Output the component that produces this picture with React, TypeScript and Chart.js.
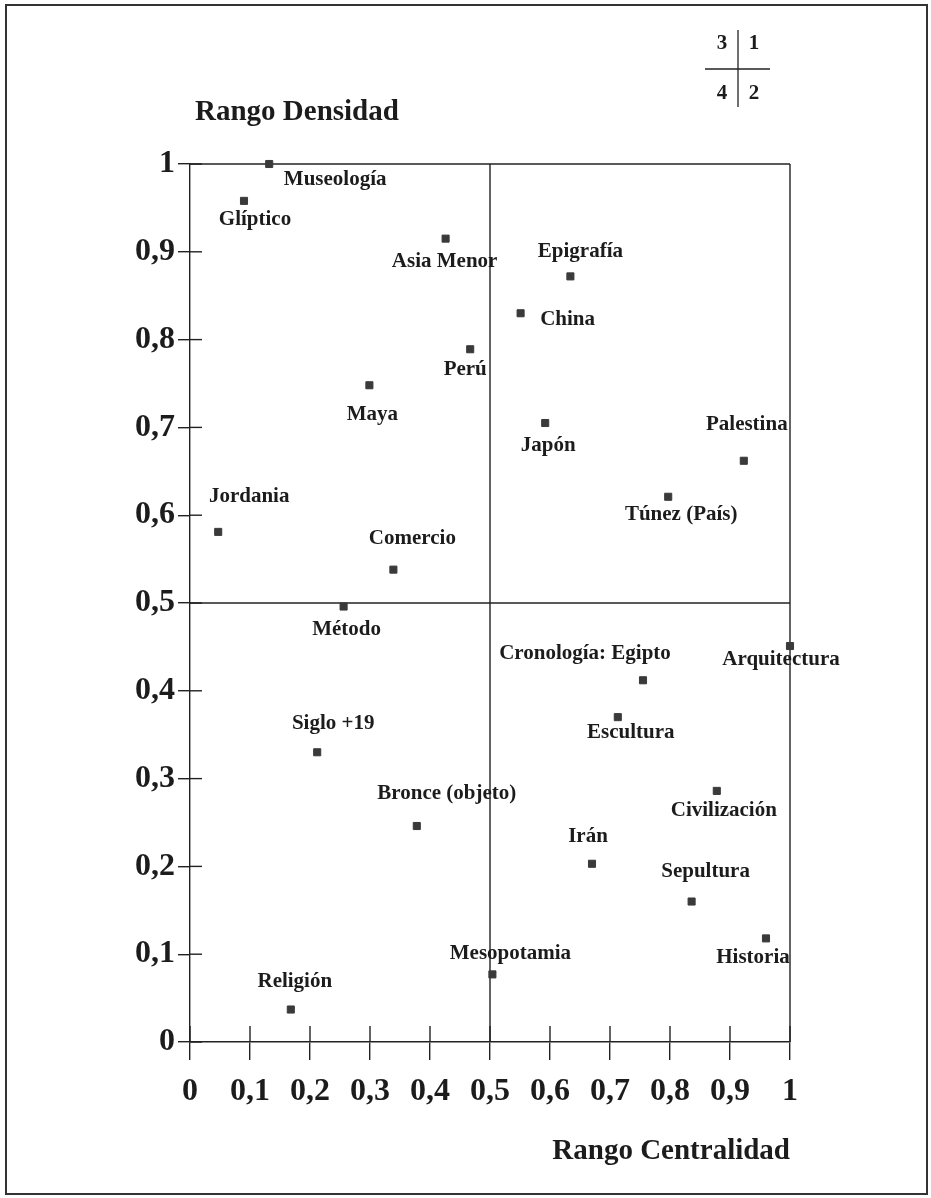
import React, { useEffect, useRef } from 'react';
import { Chart, registerables } from 'chart.js';

Chart.register(...registerables);

// ---- Data ----
const TOPICS = [
  'Museología', 'Glíptico', 'Asia Menor', 'Epigrafía', 'China', 'Perú', 'Maya', 'Japón',
  'Palestina', 'Túnez (País)', 'Jordania', 'Comercio', 'Método', 'Arquitectura',
  'Cronología: Egipto', 'Escultura', 'Siglo +19', 'Civilización', 'Bronce (objeto)', 'Irán',
  'Sepultura', 'Historia', 'Mesopotamia', 'Religión',
];
const CENTRALITY = [
  0.132, 0.09, 0.426, 0.634, 0.551, 0.467, 0.299, 0.592,
  0.923, 0.797, 0.047, 0.339, 0.256, 1.0,
  0.755, 0.713, 0.212, 0.878, 0.378, 0.67,
  0.836, 0.96, 0.504, 0.168,
];
const DENSITY = [
  1.0, 0.958, 0.915, 0.872, 0.83, 0.789, 0.748, 0.705,
  0.662, 0.621, 0.581, 0.538, 0.496, 0.451,
  0.412, 0.37, 0.33, 0.286, 0.246, 0.203,
  0.16, 0.118, 0.077, 0.037,
];
const X_TITLE = 'Rango Centralidad';
const Y_TITLE = 'Rango Densidad';
const QUADRANT_LABELS = ['3', '1', '4', '2'];

// ---- Label placement (pixel offsets from each marker, layout only) ----
const LABEL_OFFSETS: [number, number][] = [
  [66, 16], [11, 19], [-1, 23], [10, -25], [47, 6], [-5, 20], [3, 29], [3, 23],
  [3, -36], [13, 18], [31, -35], [19, -31], [3, 23], [-9, 14],
  [-58, -27], [13, 15], [16, -29], [7, 20], [30, -32], [-4, -27],
  [14, -30], [-13, 19], [18, -21], [4, -28],
];

const FAMILY = "'Liberation Serif', 'Times New Roman', serif";
const INK = '#1c1c1c';

const fmt = (v: number) => {
  if (Math.abs(v) < 1e-9) return '0';
  if (Math.abs(v - 1) < 1e-9) return '1';
  return v.toFixed(1).replace('.', ',');
};

const line = (ctx: CanvasRenderingContext2D, x1: number, y1: number, x2: number, y2: number) => {
  ctx.beginPath();
  ctx.moveTo(x1, y1);
  ctx.lineTo(x2, y2);
  ctx.stroke();
};

const decorPlugin = {
  id: 'decor',
  beforeDatasetsDraw(chart: any) {
    const ctx = chart.ctx as CanvasRenderingContext2D;
    const { left, right, top, bottom } = chart.chartArea;
    const xs = chart.scales.x;
    const ys = chart.scales.y;
    ctx.save();
    ctx.strokeStyle = '#222';
    ctx.lineWidth = 1.4;
    // box top/right
    line(ctx, left, top, right, top);
    line(ctx, right, top, right, bottom);
    // quadrant dividers
    const xm = xs.getPixelForValue(0.5);
    const ym = ys.getPixelForValue(0.5);
    line(ctx, xm, top, xm, bottom);
    line(ctx, left, ym, right, ym);
    // inward parts of tick marks
    xs.ticks.forEach((t: any) => {
      const px = xs.getPixelForValue(t.value);
      line(ctx, px, bottom - 16, px, bottom);
    });
    ys.ticks.forEach((t: any) => {
      const py = ys.getPixelForValue(t.value);
      line(ctx, left, py, left + 12, py);
    });
    ctx.restore();
  },
  afterDraw(chart: any) {
    const ctx = chart.ctx as CanvasRenderingContext2D;
    const { left, right, top, bottom } = chart.chartArea;
    ctx.save();
    // point labels
    const meta = chart.getDatasetMeta(0);
    ctx.fillStyle = INK;
    ctx.font = `bold 21px ${FAMILY}`;
    ctx.textAlign = 'center';
    ctx.textBaseline = 'middle';
    meta.data.forEach((el: any, i: number) => {
      const [dx, dy] = LABEL_OFFSETS[i] || [0, 20];
      ctx.fillText(TOPICS[i], el.x + dx, el.y + dy);
    });

    // axis titles
    ctx.font = `bold 29px ${FAMILY}`;
    ctx.textAlign = 'left';
    ctx.fillText(Y_TITLE, left + 5, top - 51);
    ctx.textAlign = 'right';
    ctx.fillText(X_TITLE, right, bottom + 110);

    // quadrant key
    const qx = right - 52;
    const qy = 69;
    ctx.strokeStyle = '#222';
    ctx.lineWidth = 1.3;
    line(ctx, qx, qy - 39, qx, qy + 38);
    line(ctx, qx - 33, qy, qx + 32, qy);
    ctx.font = `bold 21px ${FAMILY}`;
    ctx.textAlign = 'center';
    ctx.fillText(QUADRANT_LABELS[0], qx - 16, qy - 25);
    ctx.fillText(QUADRANT_LABELS[1], qx + 16, qy - 25);
    ctx.fillText(QUADRANT_LABELS[2], qx - 16, qy + 25);
    ctx.fillText(QUADRANT_LABELS[3], qx + 16, qy + 25);

    // page frame
    ctx.lineWidth = 2;
    ctx.strokeStyle = '#333';
    ctx.strokeRect(6, 5, chart.width - 10, chart.height - 9);
    ctx.restore();
  },
};

export default function App() {
  const canvasRef = useRef<HTMLCanvasElement | null>(null);

  useEffect(() => {
    document.body.style.margin = '0';
    const canvas = canvasRef.current;
    if (!canvas) return;
    const axisCommon = {
      type: 'linear' as const,
      min: 0,
      max: 1,
      border: { display: true, color: '#222', width: 1.4 },
    };
    const chart = new Chart(canvas, {
      type: 'scatter',
      data: {
        datasets: [
          {
            data: CENTRALITY.map((x, i) => ({ x, y: DENSITY[i] })),
            pointStyle: 'rect',
            pointRadius: 5,
            pointHoverRadius: 5,
            backgroundColor: '#3a3a3a',
            borderColor: '#3a3a3a',
            borderWidth: 1,
            clip: false,
          },
        ],
      },
      options: {
        responsive: false,
        animation: false,
        events: [],
        layout: { padding: { top: 164, right: 141, bottom: 0, left: 0 } },
        plugins: {
          legend: { display: false },
          tooltip: { enabled: false },
          title: { display: false },
        },
        scales: {
          x: {
            ...axisCommon,
            ticks: {
              stepSize: 0.1,
              autoSkip: false,
              maxRotation: 0,
              padding: 13,
              color: INK,
              font: { family: FAMILY, size: 32, weight: 'bold' },
              callback: (v: any) => fmt(Number(v)),
            },
            grid: { drawOnChartArea: false, drawTicks: true, tickLength: 18, color: '#222', lineWidth: 1.4 },
            afterFit: (s: any) => { s.height = 156; },
          },
          y: {
            ...axisCommon,
            ticks: {
              stepSize: 0.1,
              autoSkip: false,
              padding: 3,
              color: INK,
              font: { family: FAMILY, size: 32, weight: 'bold' },
              callback: (v: any) => fmt(Number(v)),
            },
            grid: { drawOnChartArea: false, drawTicks: true, tickLength: 12, color: '#222', lineWidth: 1.4 },
            afterFit: (s: any) => { s.width = 190; },
          },
        },
      } as any,
      plugins: [decorPlugin],
    });
    return () => chart.destroy();
  }, []);

  return (
    <div style={{ width: 931, height: 1198, background: '#fff' }}>
      <canvas ref={canvasRef} width={931} height={1198} style={{ display: 'block' }} />
    </div>
  );
}
